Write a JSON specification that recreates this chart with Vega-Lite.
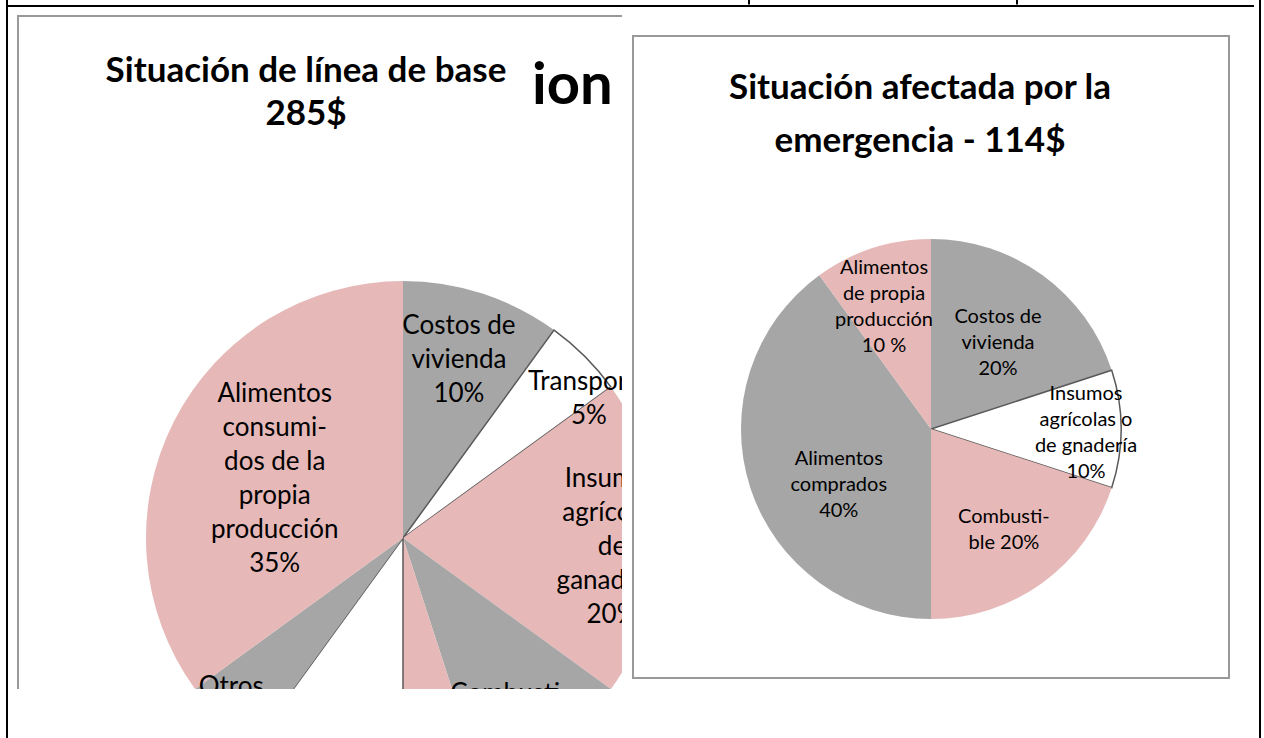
{
  "$schema": "https://vega.github.io/schema/vega-lite/v6.json",
  "background": "white",
  "padding": {"left": 6, "top": 0, "right": 0, "bottom": 0},
  "spacing": 0,
  "resolve": {"scale": {"color": "independent", "theta": "independent"}},
  "datasets": {
    "base": [
      {"orden": 1, "categoria": "Costos de vivienda", "porcentaje": 10, "etiqueta": ["Costos de", "vivienda", "10%"]},
      {"orden": 2, "categoria": "Transporte", "porcentaje": 5, "etiqueta": ["Transporte", "5%"]},
      {"orden": 3, "categoria": "Insumos agrícolas o de ganadería", "porcentaje": 20, "etiqueta": ["Insumos", "agrícolas", "de", "ganadería", "20%"]},
      {"orden": 4, "categoria": "Combustible", "porcentaje": 10, "etiqueta": ["Combusti-", "ble", "10%"]},
      {"orden": 5, "categoria": "Salud", "porcentaje": 5, "etiqueta": [""]},
      {"orden": 6, "categoria": "Alimentos comprados", "porcentaje": 10, "etiqueta": [""]},
      {"orden": 7, "categoria": "Otros", "porcentaje": 5, "etiqueta": ["Otros", "5%"]},
      {"orden": 8, "categoria": "Alimentos consumidos de la propia producción", "porcentaje": 35, "etiqueta": ["Alimentos", "consumi-", "dos de la", "propia", "producción", "35%"]}
    ],
    "emergencia": [
      {"orden": 1, "categoria": "Costos de vivienda", "porcentaje": 20, "etiqueta": ["Costos de", "vivienda", "20%"]},
      {"orden": 2, "categoria": "Insumos agrícolas o de gnadería", "porcentaje": 10, "etiqueta": ["Insumos", "agrícolas o", "de gnadería", "10%"]},
      {"orden": 3, "categoria": "Combustible", "porcentaje": 20, "etiqueta": ["Combusti-", "ble  20%"]},
      {"orden": 4, "categoria": "Alimentos comprados", "porcentaje": 40, "etiqueta": ["Alimentos", "comprados", "40%"]},
      {"orden": 5, "categoria": "Alimentos de propia producción", "porcentaje": 10, "etiqueta": ["Alimentos", "de propia", "producción", "10 %"]}
    ],
    "tituloBase": [{"titulo": ["Situación de línea de base", "285$"]}],
    "fragmento": [{"texto": "ion"}],
    "tituloEmergencia": [{"titulo": ["Situación afectada por la", "emergencia - 114$"]}]
  },
  "hconcat": [
    {"width": 2, "height": 739, "data": {"values": []}, "mark": "point", "view": {"stroke": null, "fill": "black"}},
    {
      "spacing": 0,
      "resolve": {"scale": {"color": "independent", "theta": "independent"}},
      "vconcat": [
        {
          "spacing": 0,
          "bounds": "flush",
          "hconcat": [
            {"width": 740, "height": 4.5, "data": {"values": []}, "mark": "point", "view": {"stroke": null}},
            {"width": 2, "height": 4.5, "data": {"values": []}, "mark": "point", "view": {"stroke": null, "fill": "black"}},
            {"width": 266, "height": 4.5, "data": {"values": []}, "mark": "point", "view": {"stroke": null}},
            {"width": 2, "height": 4.5, "data": {"values": []}, "mark": "point", "view": {"stroke": null, "fill": "black"}},
            {"width": 236, "height": 4.5, "data": {"values": []}, "mark": "point", "view": {"stroke": null}}
          ]
        },
        {"width": 1246, "height": 2, "data": {"values": []}, "mark": "point", "view": {"stroke": null, "fill": "black"}},
        {
          "spacing": 0,
          "resolve": {"scale": {"color": "independent", "theta": "independent"}},
          "hconcat": [
            {"width": 9, "height": 10, "data": {"values": []}, "mark": "point", "view": {"stroke": null}},
            {
              "spacing": 0,
              "bounds": "flush",
              "vconcat": [
                {"width": 2, "height": 7.5, "data": {"values": []}, "mark": "point", "view": {"stroke": null}},
                {"width": 2, "height": 674, "data": {"values": []}, "mark": "point", "view": {"stroke": null, "fill": "#999999"}}
              ]
            },
            {
              "spacing": 0,
              "bounds": "flush",
              "vconcat": [
                {"width": 603, "height": 7.5, "data": {"values": []}, "mark": "point", "view": {"stroke": null}},
                {"width": 603, "height": 2, "data": {"values": []}, "mark": "point", "view": {"stroke": null, "fill": "#999999"}},
                {
                  "width": 603, "height": 672,
                  "view": {"stroke": null},
                  "layer": [
                    {
                      "data": {"name": "base"},
                      "mark": {"type": "arc", "radius": 257, "x": 384, "y": 521, "clip": true, "strokeWidth": 1.5},
                      "encoding": {
                        "theta": {"field": "porcentaje", "type": "quantitative", "stack": true},
                        "order": {"field": "orden", "type": "quantitative"},
                        "color": {"field": "categoria", "type": "nominal", "legend": null,
                          "scale": {"domain": ["Costos de vivienda", "Transporte", "Insumos agrícolas o de ganadería", "Combustible", "Salud", "Alimentos comprados", "Otros", "Alimentos consumidos de la propia producción"],
                                    "range": ["#A6A6A6", "#FFFFFF", "#E6B9B8", "#A6A6A6", "#E6B9B8", "#FFFFFF", "#A6A6A6", "#E6B9B8"]}},
                        "stroke": {"condition": {"test": "datum.categoria == 'Transporte' || datum.categoria == 'Alimentos comprados'", "value": "#595959"}, "value": null}
                      }
                    },
                    {
                      "data": {"name": "base"},
                      "mark": {"type": "text", "x": 384, "y": 521, "radius": 181, "dy": -40, "clip": true, "font": "Lato", "fontSize": 26, "lineHeight": 34, "align": "center", "baseline": "middle", "color": "black"},
                      "encoding": {
                        "theta": {"field": "porcentaje", "type": "quantitative", "stack": true},
                        "order": {"field": "orden", "type": "quantitative"},
                        "text": {"condition": {"test": "datum.categoria == 'Costos de vivienda'", "field": "etiqueta", "type": "nominal"}, "value": ""}
                      }
                    },
                    {
                      "data": {"name": "base"},
                      "mark": {"type": "text", "x": 384, "y": 521, "radius": 263, "dy": 30, "clip": true, "font": "Lato", "fontSize": 26, "lineHeight": 34, "align": "center", "baseline": "middle", "color": "black"},
                      "encoding": {
                        "theta": {"field": "porcentaje", "type": "quantitative", "stack": true},
                        "order": {"field": "orden", "type": "quantitative"},
                        "text": {"condition": {"test": "datum.categoria == 'Transporte'", "field": "etiqueta", "type": "nominal"}, "value": ""}
                      }
                    },
                    {
                      "data": {"name": "base"},
                      "mark": {"type": "text", "x": 384, "y": 521, "radius": 209, "dy": -59, "clip": true, "font": "Lato", "fontSize": 26, "lineHeight": 34, "align": "center", "baseline": "middle", "color": "black"},
                      "encoding": {
                        "theta": {"field": "porcentaje", "type": "quantitative", "stack": true},
                        "order": {"field": "orden", "type": "quantitative"},
                        "text": {"condition": {"test": "datum.categoria == 'Insumos agrícolas o de ganadería'", "field": "etiqueta", "type": "nominal"}, "value": ""}
                      }
                    },
                    {
                      "data": {"name": "base"},
                      "mark": {"type": "text", "x": 384, "y": 521, "radius": 182, "dy": 9, "clip": true, "font": "Lato", "fontSize": 26, "lineHeight": 34, "align": "center", "baseline": "middle", "color": "black"},
                      "encoding": {
                        "theta": {"field": "porcentaje", "type": "quantitative", "stack": true},
                        "order": {"field": "orden", "type": "quantitative"},
                        "text": {"condition": {"test": "datum.categoria == 'Combustible'", "field": "etiqueta", "type": "nominal"}, "value": ""}
                      }
                    },
                    {
                      "data": {"name": "base"},
                      "mark": {"type": "text", "x": 384, "y": 521, "radius": 243, "dy": -23, "clip": true, "font": "Lato", "fontSize": 26, "lineHeight": 34, "align": "center", "baseline": "middle", "color": "black"},
                      "encoding": {
                        "theta": {"field": "porcentaje", "type": "quantitative", "stack": true},
                        "order": {"field": "orden", "type": "quantitative"},
                        "text": {"condition": {"test": "datum.categoria == 'Otros'", "field": "etiqueta", "type": "nominal"}, "value": ""}
                      }
                    },
                    {
                      "data": {"name": "base"},
                      "mark": {"type": "text", "x": 384, "y": 521, "radius": 144, "dy": -79, "clip": true, "font": "Lato", "fontSize": 26, "lineHeight": 34, "align": "center", "baseline": "middle", "color": "black"},
                      "encoding": {
                        "theta": {"field": "porcentaje", "type": "quantitative", "stack": true},
                        "order": {"field": "orden", "type": "quantitative"},
                        "text": {"condition": {"test": "datum.categoria == 'Alimentos consumidos de la propia producción'", "field": "etiqueta", "type": "nominal"}, "value": ""}
                      }
                    },
                    {
                      "data": {"name": "tituloBase"},
                      "mark": {"type": "text", "x": 287, "y": 65, "font": "Lato", "fontSize": 35, "fontWeight": "bold", "lineHeight": 43, "align": "center", "baseline": "alphabetic", "color": "black"},
                      "encoding": {"text": {"field": "titulo", "type": "nominal"}}
                    },
                    {
                      "data": {"name": "fragmento"},
                      "mark": {"type": "text", "x": 513, "y": 87, "font": "Lato", "fontSize": 58, "fontWeight": "bold", "align": "left", "baseline": "alphabetic", "color": "black"},
                      "encoding": {"text": {"field": "texto", "type": "nominal"}}
                    }
                  ]
                }
              ]
            },
            {"width": 9.5, "height": 10, "data": {"values": []}, "mark": "point", "view": {"stroke": null}},
            {
              "spacing": 0,
              "bounds": "flush",
              "vconcat": [
                {"width": 596, "height": 28.5, "data": {"values": []}, "mark": "point", "view": {"stroke": null}},
                {
                  "width": 596, "height": 642,
                  "view": {"stroke": "#999999", "strokeWidth": 2},
                  "layer": [
                    {
                      "data": {"name": "emergencia"},
                      "mark": {"type": "arc", "radius": 190, "x": 298, "y": 393, "strokeWidth": 1.5},
                      "encoding": {
                        "theta": {"field": "porcentaje", "type": "quantitative", "stack": true},
                        "order": {"field": "orden", "type": "quantitative"},
                        "color": {"field": "categoria", "type": "nominal", "legend": null,
                          "scale": {"domain": ["Costos de vivienda", "Insumos agrícolas o de gnadería", "Combustible", "Alimentos comprados", "Alimentos de propia producción"],
                                    "range": ["#A6A6A6", "#FFFFFF", "#E6B9B8", "#A6A6A6", "#E6B9B8"]}},
                        "stroke": {"condition": {"test": "datum.categoria == 'Insumos agrícolas o de gnadería'", "value": "#595959"}, "value": null}
                      }
                    },
                    {
                      "data": {"name": "emergencia"},
                      "mark": {"type": "text", "x": 298, "y": 393, "radius": 114, "dy": -20, "font": "Lato", "fontSize": 20, "lineHeight": 26, "align": "center", "baseline": "middle", "color": "black"},
                      "encoding": {
                        "theta": {"field": "porcentaje", "type": "quantitative", "stack": true},
                        "order": {"field": "orden", "type": "quantitative"},
                        "text": {"condition": {"test": "datum.categoria == 'Costos de vivienda'", "field": "etiqueta", "type": "nominal"}, "value": ""}
                      }
                    },
                    {
                      "data": {"name": "emergencia"},
                      "mark": {"type": "text", "x": 298, "y": 393, "radius": 155, "dy": -35, "font": "Lato", "fontSize": 20, "lineHeight": 26, "align": "center", "baseline": "middle", "color": "black"},
                      "encoding": {
                        "theta": {"field": "porcentaje", "type": "quantitative", "stack": true},
                        "order": {"field": "orden", "type": "quantitative"},
                        "text": {"condition": {"test": "datum.categoria == 'Insumos agrícolas o de gnadería'", "field": "etiqueta", "type": "nominal"}, "value": ""}
                      }
                    },
                    {
                      "data": {"name": "emergencia"},
                      "mark": {"type": "text", "x": 298, "y": 393, "radius": 124, "dy": -12, "font": "Lato", "fontSize": 20, "lineHeight": 26, "align": "center", "baseline": "middle", "color": "black"},
                      "encoding": {
                        "theta": {"field": "porcentaje", "type": "quantitative", "stack": true},
                        "order": {"field": "orden", "type": "quantitative"},
                        "text": {"condition": {"test": "datum.categoria == 'Combustible'", "field": "etiqueta", "type": "nominal"}, "value": ""}
                      }
                    },
                    {
                      "data": {"name": "emergencia"},
                      "mark": {"type": "text", "x": 298, "y": 393, "radius": 97, "dy": 0, "font": "Lato", "fontSize": 20, "lineHeight": 26, "align": "center", "baseline": "middle", "color": "black"},
                      "encoding": {
                        "theta": {"field": "porcentaje", "type": "quantitative", "stack": true},
                        "order": {"field": "orden", "type": "quantitative"},
                        "text": {"condition": {"test": "datum.categoria == 'Alimentos comprados'", "field": "etiqueta", "type": "nominal"}, "value": ""}
                      }
                    },
                    {
                      "data": {"name": "emergencia"},
                      "mark": {"type": "text", "x": 298, "y": 393, "radius": 152, "dy": -16, "font": "Lato", "fontSize": 20, "lineHeight": 26, "align": "center", "baseline": "middle", "color": "black"},
                      "encoding": {
                        "theta": {"field": "porcentaje", "type": "quantitative", "stack": true},
                        "order": {"field": "orden", "type": "quantitative"},
                        "text": {"condition": {"test": "datum.categoria == 'Alimentos de propia producción'", "field": "etiqueta", "type": "nominal"}, "value": ""}
                      }
                    },
                    {
                      "data": {"name": "tituloEmergencia"},
                      "mark": {"type": "text", "x": 287, "y": 63, "font": "Lato", "fontSize": 35, "fontWeight": "bold", "lineHeight": 53, "align": "center", "baseline": "alphabetic", "color": "black"},
                      "encoding": {"text": {"field": "titulo", "type": "nominal"}}
                    }
                  ]
                }
              ]
            },
            {"width": 28.5, "height": 10, "data": {"values": []}, "mark": "point", "view": {"stroke": null}}
          ]
        }
      ]
    },
    {"width": 2, "height": 739, "data": {"values": []}, "mark": "point", "view": {"stroke": null, "fill": "black"}}
  ]
}
